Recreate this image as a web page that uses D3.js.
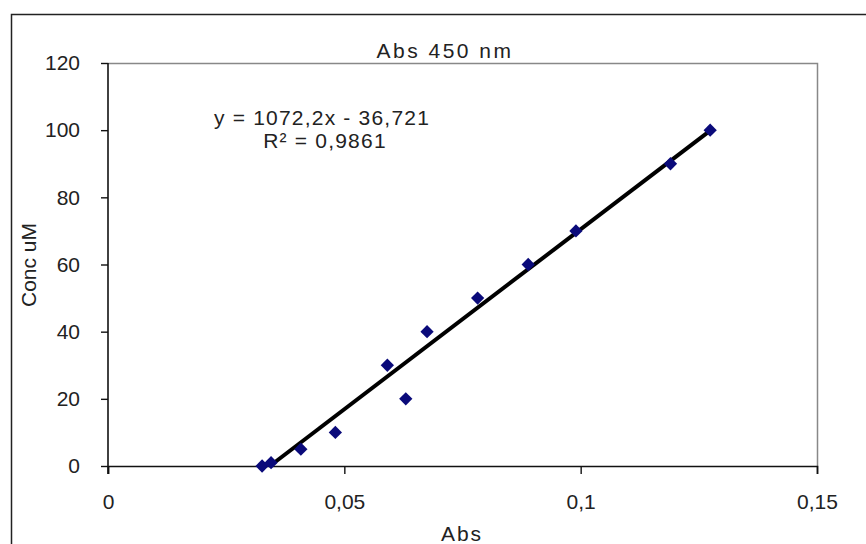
<!DOCTYPE html>
<html>
<head>
<meta charset="utf-8">
<script src="https://cdn.jsdelivr.net/npm/d3@7"></script>
<style>
  body { margin: 0; background: #fff; }
  text { font-family: "Liberation Sans", Arial, sans-serif; fill: #222; }
</style>
</head>
<body>
<svg id="chart"></svg>
<script>
const SVG_WIDTH = 866;
const SVG_HEIGHT = 544;

// absorbance readings and the concentrations they belong to
const absValues  = [0.0326, 0.0345, 0.0408, 0.0481, 0.0591, 0.0630, 0.0675, 0.0782, 0.0889, 0.0990, 0.1190, 0.1274];
const concValues = [0, 1, 5, 10, 30, 20, 40, 50, 60, 70, 90, 100];

const xTicks = [0, 0.05, 0.1, 0.15];
const yTicks = [0, 20, 40, 60, 80, 100, 120];

// trendline as printed on the chart
const slope = 1072.2;
const intercept = -36.721;
const eqLabel = 'y = 1072,2x  - 36,721';
const r2Label = 'R\u00B2 = 0,9861';

const margin = {left: 108, right: 49, top: 63, bottom: 78};

const svg = d3.select('#chart')
  .attr('width', SVG_WIDTH)
  .attr('height', SVG_HEIGHT);

// chart area frame (cut off at right and bottom)
svg.append('rect')
  .attr('x', 11.5).attr('y', 14.5)
  .attr('width', 900).attr('height', 600)
  .attr('fill', 'none')
  .attr('stroke', '#222')
  .attr('stroke-width', 1.5);

const x = d3.scaleLinear()
  .domain([0, 0.15])
  .range([margin.left, SVG_WIDTH - margin.right]);

const y = d3.scaleLinear()
  .domain([0, 120])
  .range([SVG_HEIGHT - margin.bottom, margin.top]);

const fmt = d => String(d).replace('.', ',');

// plot area border (top and right are grey)
svg.append('path')
  .attr('d', `M${x(0)},${y(120) + 0.5}H${x(0.15) + 0.5}V${y(0)}`)
  .attr('fill', 'none')
  .attr('stroke', '#888')
  .attr('stroke-width', 1.5);

const xAxis = svg.append('g')
  .attr('transform', `translate(0,${y(0)})`)
  .call(d3.axisBottom(x).tickValues(xTicks).tickFormat(fmt).tickSize(8).tickPadding(20));

const yAxis = svg.append('g')
  .attr('transform', `translate(${x(0)},0)`)
  .call(d3.axisLeft(y).tickValues(yTicks).tickSize(7).tickPadding(21));

[xAxis, yAxis].forEach(g => {
  g.select('.domain').attr('stroke', '#111').attr('stroke-width', 1.6);
  g.selectAll('.tick line').attr('stroke', '#111').attr('stroke-width', 1.4);
  g.selectAll('.tick text')
    .attr('font-family', '"Liberation Sans", Arial, sans-serif')
    .attr('font-size', 21)
    .attr('fill', '#222');
});
yAxis.select('.domain').attr('d', `M0,${y(120)}V${y(0) + 8}`);

// trendline, from the data's x range, clipped at y = 0
const xMin = d3.max([d3.min(absValues), -intercept / slope]);
const xMax = d3.max(absValues);
const trend = [xMin, xMax].map(a => [a, slope * a + intercept]);

svg.append('path')
  .datum(trend)
  .attr('d', d3.line().x(d => x(d[0])).y(d => y(d[1])))
  .attr('stroke', '#000')
  .attr('stroke-width', 4)
  .attr('fill', 'none');

// diamond markers
const points = absValues.map((a, i) => ({a: a, c: concValues[i]}));
svg.append('g')
  .selectAll('path')
  .data(points)
  .enter()
  .append('path')
  .attr('d', d3.symbol().type(d3.symbolSquare).size(88))
  .attr('transform', d => `translate(${x(d.a)},${y(d.c)}) rotate(45)`)
  .attr('fill', '#0a0a7a');

// title and axis labels
svg.append('text')
  .attr('x', 445).attr('y', 58)
  .attr('text-anchor', 'middle')
  .attr('font-size', 21)
  .attr('letter-spacing', 2.5)
  .text('Abs 450 nm');

svg.append('text')
  .attr('x', 462).attr('y', 541)
  .attr('text-anchor', 'middle')
  .attr('font-size', 21)
  .attr('letter-spacing', 2)
  .text('Abs');

svg.append('text')
  .attr('transform', 'translate(36,265) rotate(-90)')
  .attr('text-anchor', 'middle')
  .attr('font-size', 21)
  .text('Conc uM');

// regression equation
svg.append('text')
  .attr('x', 322).attr('y', 125)
  .attr('text-anchor', 'middle')
  .attr('font-size', 21)
  .attr('letter-spacing', 1.2)
  .text(eqLabel);

svg.append('text')
  .attr('x', 325).attr('y', 148)
  .attr('text-anchor', 'middle')
  .attr('font-size', 21)
  .attr('letter-spacing', 1.2)
  .text(r2Label);
</script>
</body>
</html>
